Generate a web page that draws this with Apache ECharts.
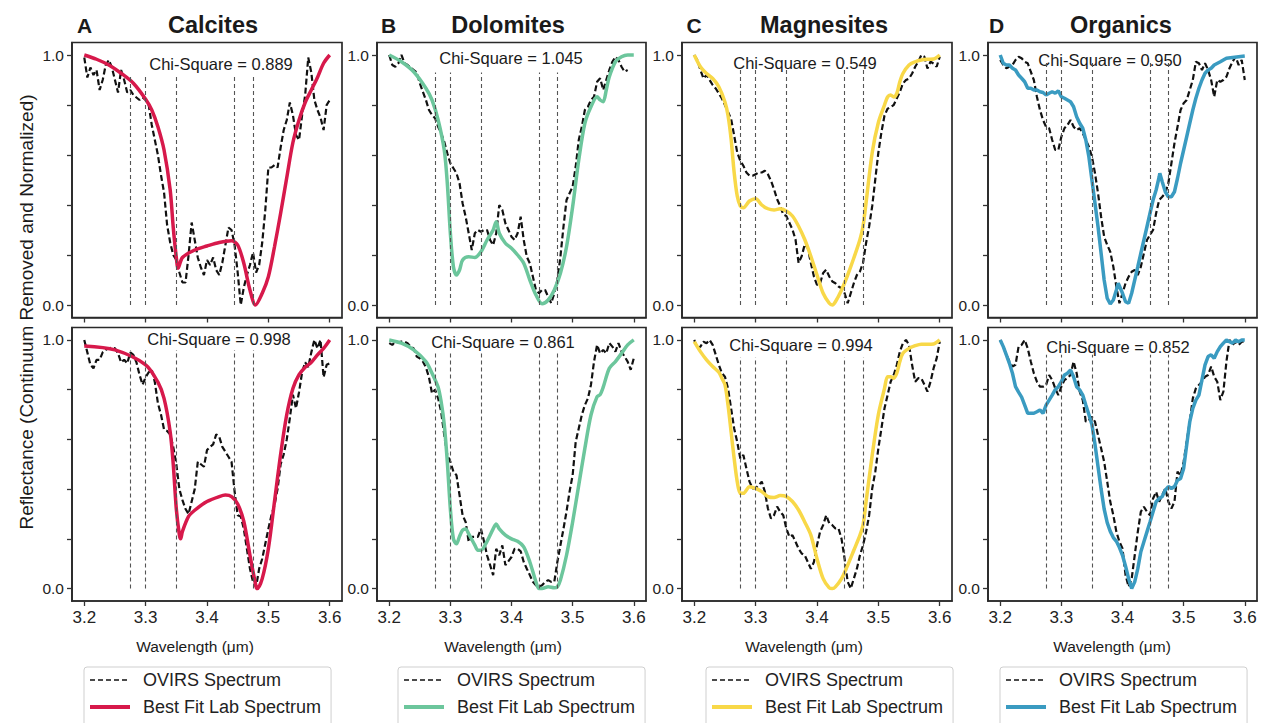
<!DOCTYPE html>
<html><head><meta charset="utf-8">
<script src="https://cdn.jsdelivr.net/npm/echarts@6.0.0/dist/echarts.min.js"></script>
<style>html,body{margin:0;padding:0;background:#fff}#chart{width:1262px;height:723px}</style>
</head><body><div id="chart"></div>
<script>
// ---------------- DATA ----------------
const wavelengths = [
3.200,3.205,3.210,3.215,3.220,3.225,3.230,3.235,3.240,3.245,
3.250,3.255,3.260,3.265,3.270,3.275,3.280,3.285,3.290,3.295,
3.300,3.305,3.310,3.315,3.320,3.325,3.330,3.335,3.340,3.345,
3.350,3.355,3.360,3.365,3.370,3.375,3.380,3.385,3.390,3.395,
3.400,3.405,3.410,3.415,3.420,3.425,3.430,3.435,3.440,3.445,
3.450,3.455,3.460,3.465,3.470,3.475,3.480,3.485,3.490,3.495,
3.500,3.505,3.510,3.515,3.520,3.525,3.530,3.535,3.540,3.545,
3.550,3.555,3.560,3.565,3.570,3.575,3.580,3.585,3.590,3.595,
3.600];

const ovirsCalciteTop = [
0.99,0.91,0.95,0.92,0.94,0.86,0.90,0.96,0.98,0.95,
0.90,0.85,0.94,0.90,0.85,0.86,0.84,0.83,0.82,0.83,
0.82,0.80,0.72,0.66,0.60,0.52,0.45,0.32,0.25,0.20,
0.18,0.13,0.09,0.09,0.20,0.33,0.26,0.19,0.15,0.12,
0.18,0.16,0.19,0.14,0.12,0.17,0.24,0.31,0.30,0.24,
0.13,0.00,0.07,0.12,0.16,0.21,0.13,0.16,0.25,0.38,
0.55,0.55,0.56,0.55,0.63,0.70,0.74,0.81,0.76,0.68,
0.66,0.76,0.84,0.99,0.93,0.82,0.78,0.75,0.70,0.80,
0.82];
const ovirsCalciteBottom = [
1.0,0.95,0.90,0.886,0.92,0.92,0.95,0.96,0.966,0.97,
0.966,0.946,0.91,0.92,0.906,0.95,0.94,0.91,0.86,0.82,
0.85,0.87,0.88,0.83,0.745,0.70,0.64,0.634,0.62,0.57,
0.50,0.40,0.356,0.32,0.30,0.35,0.40,0.51,0.50,0.49,
0.557,0.57,0.58,0.62,0.61,0.57,0.55,0.53,0.51,0.39,
0.295,0.29,0.24,0.16,0.08,0.027,0.007,0.08,0.12,0.18,
0.24,0.295,0.336,0.40,0.50,0.54,0.60,0.685,0.78,0.725,
0.79,0.87,0.91,0.89,0.95,1.0,0.966,1.0,0.85,0.90,
0.906];
const ovirsDolomiteTop = [
1.0,0.96,0.953,0.967,1.0,0.967,0.96,0.95,0.94,0.93,
0.887,0.853,0.82,0.78,0.76,0.747,0.713,0.687,0.653,0.607,
0.567,0.547,0.527,0.487,0.407,0.353,0.287,0.22,0.287,0.30,
0.293,0.30,0.30,0.26,0.24,0.287,0.40,0.38,0.327,0.30,
0.273,0.26,0.287,0.353,0.26,0.193,0.167,0.113,0.06,0.047,
0.06,0.06,0.033,0.007,0.047,0.10,0.193,0.313,0.42,0.447,
0.473,0.553,0.66,0.713,0.78,0.793,0.82,0.833,0.893,0.907,
0.86,0.90,0.94,0.973,0.993,0.98,0.953,0.933,0.94,null,
null];
const ovirsDolomiteBottom = [
0.987,0.98,0.993,0.99,0.993,0.993,0.987,0.973,0.966,0.933,
0.926,0.913,0.89,0.85,0.785,0.80,0.765,0.71,0.617,0.537,
0.51,0.47,0.456,0.376,0.295,0.268,0.188,0.208,0.208,0.208,
0.24,0.19,0.134,0.094,0.054,0.16,0.134,0.174,0.094,0.11,
0.127,0.16,0.16,0.15,0.107,0.08,0.054,0.027,0.013,0.007,
0.013,0.027,0.034,0.027,0.027,0.107,0.174,0.24,0.31,0.39,
0.456,0.59,0.644,0.698,0.738,0.765,0.82,0.913,0.98,0.946,
0.96,0.946,0.987,0.973,0.953,0.987,0.953,0.933,0.913,0.88,
0.926];
const ovirsMagnesiteTop = [
1.0,0.98,0.94,0.906,0.92,0.90,0.88,0.866,0.846,0.826,
0.80,0.772,0.745,0.678,0.61,0.577,0.557,0.53,0.517,0.517,
0.523,0.53,0.53,0.537,0.523,0.497,0.463,0.423,0.396,0.362,
0.356,0.329,0.302,0.262,0.168,0.195,0.242,0.228,0.168,0.114,
0.08,0.087,0.128,0.141,0.114,0.094,0.087,0.074,0.067,0.047,
0.007,0.047,0.087,0.12,0.134,0.168,0.248,0.315,0.396,0.503,
0.61,0.691,0.758,0.785,0.792,0.80,0.826,0.852,0.886,0.90,
0.906,0.926,0.953,0.973,1.0,0.993,0.946,0.973,0.966,0.953,
0.993];
const ovirsMagnesiteBottom = [
1.0,0.966,0.973,0.993,0.987,1.0,0.98,0.94,0.90,0.866,
0.852,0.805,0.725,0.644,0.59,0.523,0.537,0.483,0.43,0.403,
0.403,0.416,0.43,0.39,0.322,0.282,0.295,0.33,0.309,0.295,
0.242,0.208,0.215,0.188,0.161,0.141,0.134,0.107,0.08,0.107,
0.174,0.228,0.255,0.295,0.262,0.255,0.242,0.242,0.20,0.12,
0.027,0.0,0.04,0.08,0.134,0.174,0.228,0.295,0.403,0.47,
0.564,0.644,0.725,0.778,0.832,0.859,0.899,0.953,0.987,1.0,
0.98,0.899,0.832,0.846,0.846,0.82,0.792,0.832,0.886,0.926,
0.993];
const ovirsOrganicTop = [
0.98,0.96,0.947,0.953,0.96,0.98,0.993,0.987,0.973,0.967,
0.933,0.90,0.833,0.78,0.74,0.713,0.707,0.66,0.62,0.62,
0.673,0.707,0.72,0.74,0.713,0.70,0.707,0.687,0.66,0.633,
0.593,0.527,0.447,0.353,0.273,0.24,0.213,0.153,0.073,0.007,
0.047,0.087,0.113,0.133,0.14,0.12,0.153,0.207,0.26,0.28,
0.30,0.367,0.42,0.433,0.447,0.487,0.567,0.647,0.713,0.78,
0.807,0.82,0.86,0.90,0.973,0.967,0.94,0.967,0.94,0.90,
0.833,0.90,0.893,0.90,0.913,0.947,0.973,0.993,0.96,0.98,
0.90];
const ovirsOrganicBottom = [
1.0,0.973,0.94,0.913,0.893,0.90,0.973,0.98,1.0,0.966,
0.913,0.866,0.832,0.812,0.812,0.819,0.859,0.839,0.805,0.778,
0.812,0.839,0.846,0.859,0.913,0.866,0.792,0.758,0.671,0.678,
0.691,0.671,0.617,0.564,0.51,0.43,0.349,0.295,0.228,0.188,
0.161,0.054,0.007,0.04,0.134,0.228,0.309,0.329,0.309,0.295,
0.362,0.389,0.349,0.376,0.403,0.349,0.322,0.349,0.47,0.456,
0.51,0.591,0.671,0.765,0.805,0.819,0.832,0.852,0.859,0.893,
0.852,0.832,0.758,0.792,0.913,1.0,0.98,0.993,0.98,0.993,
0.993];

const fitCalciteTop = [[3.20,1.0],[3.22,0.983],[3.24,0.96],[3.26,0.927],[3.28,0.887],[3.30,0.823],[3.31,0.78],[3.32,0.713],[3.33,0.62],[3.34,0.46],[3.345,0.31],[3.35,0.19],[3.353,0.147],[3.36,0.19],[3.38,0.22],[3.40,0.236],[3.42,0.25],[3.44,0.257],[3.45,0.24],[3.46,0.167],[3.47,0.06],[3.479,0.0],[3.49,0.047],[3.50,0.113],[3.51,0.233],[3.52,0.367],[3.53,0.51],[3.54,0.65],[3.55,0.74],[3.56,0.81],[3.57,0.86],[3.58,0.91],[3.59,0.967],[3.60,1.0]];
const fitCalciteBottom = [[3.20,0.976],[3.25,0.96],[3.30,0.90],[3.32,0.83],[3.33,0.765],[3.34,0.63],[3.345,0.50],[3.35,0.32],[3.355,0.215],[3.357,0.20],[3.36,0.23],[3.37,0.29],[3.38,0.315],[3.40,0.35],[3.42,0.37],[3.43,0.376],[3.44,0.37],[3.45,0.34],[3.46,0.27],[3.47,0.134],[3.48,0.007],[3.482,0.0],[3.49,0.04],[3.50,0.16],[3.51,0.35],[3.52,0.54],[3.53,0.70],[3.54,0.805],[3.55,0.86],[3.56,0.89],[3.57,0.91],[3.58,0.94],[3.59,0.966],[3.60,1.0]];
const fitDolomiteTop = [[3.20,1.0],[3.22,0.973],[3.24,0.933],[3.26,0.867],[3.27,0.82],[3.28,0.74],[3.29,0.62],[3.295,0.487],[3.30,0.287],[3.305,0.153],[3.31,0.12],[3.315,0.14],[3.32,0.18],[3.33,0.193],[3.34,0.19],[3.35,0.213],[3.36,0.26],[3.37,0.30],[3.375,0.333],[3.38,0.287],[3.39,0.247],[3.40,0.227],[3.41,0.20],[3.42,0.167],[3.43,0.10],[3.44,0.04],[3.45,0.005],[3.46,0.02],[3.47,0.06],[3.48,0.127],[3.49,0.233],[3.50,0.393],[3.51,0.58],[3.52,0.727],[3.53,0.793],[3.54,0.833],[3.545,0.82],[3.55,0.813],[3.555,0.86],[3.56,0.913],[3.57,0.973],[3.58,0.993],[3.59,1.0],[3.60,1.0]];
const fitDolomiteBottom = [[3.20,1.0],[3.22,0.987],[3.24,0.96],[3.26,0.913],[3.27,0.866],[3.28,0.81],[3.285,0.75],[3.29,0.66],[3.295,0.51],[3.30,0.32],[3.305,0.20],[3.31,0.18],[3.315,0.21],[3.32,0.235],[3.325,0.24],[3.33,0.22],[3.34,0.175],[3.345,0.154],[3.35,0.154],[3.36,0.19],[3.37,0.24],[3.375,0.26],[3.38,0.24],[3.39,0.215],[3.40,0.20],[3.41,0.19],[3.42,0.168],[3.43,0.107],[3.44,0.027],[3.445,0.0],[3.45,0.0],[3.46,0.007],[3.47,0.003],[3.475,0.007],[3.48,0.034],[3.49,0.134],[3.50,0.268],[3.51,0.416],[3.52,0.564],[3.53,0.698],[3.54,0.772],[3.545,0.78],[3.55,0.81],[3.56,0.886],[3.57,0.913],[3.58,0.946],[3.59,0.98],[3.60,1.0]];
const fitMagnesiteTop = [[3.20,1.0],[3.21,0.953],[3.22,0.926],[3.23,0.906],[3.24,0.873],[3.25,0.812],[3.255,0.758],[3.26,0.664],[3.265,0.53],[3.27,0.436],[3.275,0.396],[3.28,0.389],[3.29,0.416],[3.30,0.425],[3.31,0.40],[3.32,0.385],[3.33,0.38],[3.34,0.385],[3.35,0.376],[3.36,0.356],[3.37,0.315],[3.38,0.262],[3.39,0.195],[3.40,0.12],[3.41,0.047],[3.42,0.007],[3.425,0.0],[3.43,0.013],[3.44,0.06],[3.45,0.12],[3.46,0.188],[3.47,0.262],[3.475,0.315],[3.48,0.41],[3.49,0.61],[3.50,0.73],[3.51,0.80],[3.515,0.832],[3.52,0.84],[3.525,0.832],[3.53,0.846],[3.535,0.893],[3.54,0.926],[3.55,0.96],[3.56,0.973],[3.57,0.98],[3.58,0.983],[3.59,0.984],[3.60,1.0]];
const fitMagnesiteBottom = [[3.20,0.993],[3.21,0.953],[3.22,0.92],[3.23,0.893],[3.24,0.87],[3.245,0.846],[3.25,0.82],[3.255,0.738],[3.26,0.63],[3.265,0.523],[3.27,0.43],[3.275,0.383],[3.28,0.383],[3.29,0.41],[3.30,0.403],[3.31,0.39],[3.32,0.37],[3.33,0.366],[3.34,0.374],[3.35,0.37],[3.36,0.35],[3.37,0.316],[3.38,0.268],[3.39,0.215],[3.40,0.12],[3.41,0.04],[3.42,0.003],[3.425,0.0],[3.43,0.007],[3.44,0.04],[3.45,0.094],[3.46,0.154],[3.47,0.215],[3.475,0.255],[3.48,0.35],[3.49,0.537],[3.50,0.70],[3.51,0.805],[3.515,0.852],[3.52,0.852],[3.525,0.846],[3.53,0.866],[3.535,0.913],[3.54,0.946],[3.55,0.966],[3.56,0.977],[3.57,0.983],[3.58,0.983],[3.59,0.984],[3.60,1.0]];
const fitOrganicTop = [[3.20,1.0],[3.205,0.967],[3.21,0.96],[3.215,0.96],[3.22,0.947],[3.225,0.94],[3.23,0.92],[3.235,0.907],[3.24,0.893],[3.245,0.867],[3.25,0.867],[3.255,0.86],[3.26,0.86],[3.265,0.853],[3.27,0.85],[3.275,0.84],[3.28,0.847],[3.285,0.853],[3.29,0.847],[3.295,0.857],[3.30,0.833],[3.305,0.827],[3.31,0.82],[3.315,0.813],[3.32,0.793],[3.325,0.753],[3.33,0.727],[3.335,0.707],[3.34,0.66],[3.345,0.593],[3.35,0.50],[3.355,0.407],[3.36,0.313],[3.365,0.207],[3.37,0.10],[3.375,0.027],[3.38,0.004],[3.385,0.02],[3.39,0.06],[3.393,0.087],[3.40,0.047],[3.405,0.013],[3.41,0.007],[3.415,0.047],[3.42,0.10],[3.425,0.153],[3.43,0.207],[3.435,0.26],[3.44,0.313],[3.445,0.367],[3.45,0.42],[3.455,0.46],[3.46,0.513],[3.461,0.527],[3.465,0.493],[3.47,0.453],[3.475,0.433],[3.48,0.433],[3.485,0.453],[3.49,0.507],[3.495,0.567],[3.50,0.62],[3.505,0.673],[3.51,0.727],[3.515,0.78],[3.52,0.827],[3.525,0.867],[3.53,0.90],[3.535,0.927],[3.54,0.94],[3.545,0.947],[3.55,0.96],[3.56,0.973],[3.57,0.987],[3.58,0.99],[3.59,0.993],[3.60,0.996]];
const fitOrganicBottom = [[3.20,1.0],[3.205,0.973],[3.21,0.94],[3.215,0.906],[3.22,0.866],[3.225,0.812],[3.23,0.79],[3.235,0.77],[3.24,0.738],[3.245,0.705],[3.25,0.705],[3.255,0.705],[3.26,0.711],[3.265,0.718],[3.27,0.705],[3.275,0.738],[3.28,0.758],[3.285,0.778],[3.29,0.80],[3.295,0.812],[3.30,0.832],[3.305,0.859],[3.31,0.866],[3.315,0.879],[3.32,0.852],[3.325,0.812],[3.33,0.799],[3.335,0.778],[3.34,0.738],[3.345,0.70],[3.35,0.66],[3.355,0.58],[3.36,0.49],[3.365,0.40],[3.37,0.32],[3.375,0.265],[3.38,0.23],[3.385,0.205],[3.39,0.19],[3.395,0.165],[3.40,0.134],[3.405,0.09],[3.41,0.04],[3.415,0.0],[3.42,0.027],[3.425,0.08],[3.43,0.148],[3.435,0.188],[3.44,0.228],[3.445,0.268],[3.45,0.309],[3.455,0.349],[3.46,0.362],[3.465,0.37],[3.47,0.396],[3.475,0.41],[3.48,0.403],[3.485,0.41],[3.49,0.436],[3.495,0.443],[3.50,0.483],[3.505,0.577],[3.51,0.67],[3.515,0.725],[3.52,0.758],[3.525,0.778],[3.53,0.839],[3.535,0.90],[3.54,0.933],[3.545,0.94],[3.55,0.926],[3.555,0.953],[3.56,0.973],[3.565,0.987],[3.57,1.0],[3.575,0.993],[3.58,0.987],[3.585,1.0],[3.59,0.993],[3.595,1.0],[3.60,1.0]];

const panelLetters = ['A', 'B', 'C', 'D'];
const mineralNames = ['Calcites', 'Dolomites', 'Magnesites', 'Organics'];
const chiSquareTop = ['0.889', '1.045', '0.549', '0.950'];
const chiSquareBottom = ['0.998', '0.861', '0.994', '0.852'];
const featureWavelengths = [3.275, 3.30, 3.35, 3.445, 3.475];
const featureTopsTop = [0.92, 0.93, 0.94, 0.97];
const featureTopsBottom = [0.96, 0.95, 0.93, 0.94];
const xTickValues = [3.2, 3.3, 3.4, 3.5, 3.6];
const yTickValues = [0, 0.2, 0.4, 0.6, 0.8, 1.0];
const yLabelValues = [0, 1.0];

// ---------------- LAYOUT / STYLE ----------------
const FONT = "'Liberation Sans', Arial, Helvetica, sans-serif";
const fitColors = ['#d7194b', '#6cc69c', '#f8d848', '#3a9bc1'];
const colLeft = [72, 377, 682, 988];
const colWidth = [270, 269, 270, 269];
const rowTop = [42.5, 327.5];
const rowHeight = [275, 273.5];
const legendLeft = [84, 398, 706, 1000];
const titleX = [213, 508, 824, 1121];
const letterX = [84.5, 388.5, 694, 996.5];
const wavelengthLabelX = [195, 503, 804, 1112];
const chiPosTop = [[221, 64], [511, 58], [805, 62.5], [1110, 60]];
const chiPosBottom = [[219, 338.5], [503, 341.5], [801, 345], [1118, 347]];

const ovirsRows = [
  [ovirsCalciteTop, ovirsDolomiteTop, ovirsMagnesiteTop, ovirsOrganicTop],
  [ovirsCalciteBottom, ovirsDolomiteBottom, ovirsMagnesiteBottom, ovirsOrganicBottom]
];
const fitRows = [
  [fitCalciteTop, fitDolomiteTop, fitMagnesiteTop, fitOrganicTop],
  [fitCalciteBottom, fitDolomiteBottom, fitMagnesiteBottom, fitOrganicBottom]
];
const featureTops = [featureTopsTop, featureTopsBottom];

const grids = [], xAxes = [], yAxes = [], series = [];
for (let r = 0; r < 2; r++) {
  for (let c = 0; c < 4; c++) {
    const idx = r * 4 + c;
    grids.push({
      left: colLeft[c], top: rowTop[r], width: colWidth[c], height: rowHeight[r],
      show: true, borderColor: '#2a2a2a', borderWidth: 1.7, backgroundColor: '#fff'
    });
    xAxes.push({
      gridIndex: idx, type: 'value', min: 3.18, max: 3.62,
      axisLine: { show: true, onZero: false, lineStyle: { color: '#2a2a2a', width: 1.7 } },
      axisTick: { show: true, customValues: xTickValues, length: 5, lineStyle: { color: '#333', width: 1.3 } },
      axisLabel: { show: r === 1, customValues: xTickValues, formatter: v => v.toFixed(1),
        fontSize: 17, color: '#222', margin: 8, fontFamily: FONT },
      splitLine: { show: false }
    });
    yAxes.push({
      gridIndex: idx, type: 'value', min: -0.05, max: 1.05,
      axisLine: { show: true, onZero: false, lineStyle: { color: '#2a2a2a', width: 1.7 } },
      axisTick: { show: true, customValues: yTickValues, length: 5, lineStyle: { color: '#333', width: 1.3 } },
      axisLabel: { show: true, customValues: yLabelValues, formatter: v => v.toFixed(1),
        fontSize: 15.5, color: '#222', margin: 8, fontFamily: FONT },
      splitLine: { show: false }
    });
    const top = featureTops[r][c];
    series.push({
      name: 'OVIRS Spectrum ' + panelLetters[c],
      type: 'line', xAxisIndex: idx, yAxisIndex: idx,
      data: wavelengths.map((w, i) => [w, ovirsRows[r][c][i]]),
      showSymbol: false, symbol: 'none', silent: true, z: 3,
      lineStyle: { color: '#111', width: 2.2, type: [6, 3] },
      itemStyle: { color: '#111' },
      markLine: {
        silent: true, symbol: ['none', 'none'], animation: false,
        label: { show: false },
        lineStyle: { color: '#555', width: 1.1, type: [4, 3] },
        emphasis: { disabled: true },
        data: featureWavelengths.map(w => [{ coord: [w, 0] }, { coord: [w, top] }])
      }
    });
    series.push({
      name: 'Best Fit Lab Spectrum ' + panelLetters[c],
      type: 'line', xAxisIndex: idx, yAxisIndex: idx,
      data: fitRows[r][c],
      showSymbol: false, symbol: 'none', silent: true, z: 4,
      smooth: c === 3 ? false : 0.3,
      lineStyle: { color: fitColors[c], width: 3.5 },
      itemStyle: { color: fitColors[c] }
    });
  }
}

const legends = panelLetters.map((L, c) => ({
  left: legendLeft[c], top: 667, orient: 'horizontal', width: 120,
  data: [
    { name: 'OVIRS Spectrum ' + L, lineStyle: { width: 1.6, type: [5, 3] } },
    { name: 'Best Fit Lab Spectrum ' + L, lineStyle: { width: 4 } }
  ],
  formatter: n => n.slice(0, -2),
  itemWidth: 40, itemHeight: 14, itemGap: 7,
  padding: [3, 10, 10, 4],
  backgroundColor: '#fff', borderColor: '#cfcfcf', borderWidth: 1, borderRadius: 3,
  textStyle: { fontSize: 18, color: '#222', fontFamily: FONT, lineHeight: 20, padding: [0, 0, 0, 8] },
  itemStyle: { opacity: 0 },
  selectedMode: false
}));

function textEl(x, y, text, size, weight, extra) {
  return Object.assign({
    type: 'text', x: x, y: y, silent: true,
    style: { text: text, fontSize: size, fontWeight: weight || 'normal', fontFamily: FONT, fill: '#1a1a1a',
      align: 'center', verticalAlign: 'middle', textAlign: 'center', textVerticalAlign: 'middle' }
  }, extra || {});
}
const graphics = [];
graphics.push(textEl(26, 312, 'Reflectance (Continuum Removed and Normalized)', 19, 'normal', { rotation: Math.PI / 2 }));
for (let c = 0; c < 4; c++) {
  graphics.push(textEl(letterX[c], 25, panelLetters[c], 21, 'bold'));
  graphics.push(textEl(titleX[c], 25, mineralNames[c], 23.5, 'bold'));
  graphics.push(textEl(wavelengthLabelX[c], 646.5, 'Wavelength (μm)', 15.5, 'normal'));
  graphics.push(textEl(chiPosTop[c][0], chiPosTop[c][1], 'Chi-Square = ' + chiSquareTop[c], 16.5, 'normal'));
  graphics.push(textEl(chiPosBottom[c][0], chiPosBottom[c][1], 'Chi-Square = ' + chiSquareBottom[c], 16.5, 'normal'));
}

const chart = echarts.init(document.getElementById('chart'), null, { renderer: 'svg', width: 1262, height: 723 });
chart.setOption({
  animation: false,
  backgroundColor: '#fff',
  grid: grids, xAxis: xAxes, yAxis: yAxes,
  legend: legends,
  series: series,
  graphic: graphics
});
</script>
</body></html>
